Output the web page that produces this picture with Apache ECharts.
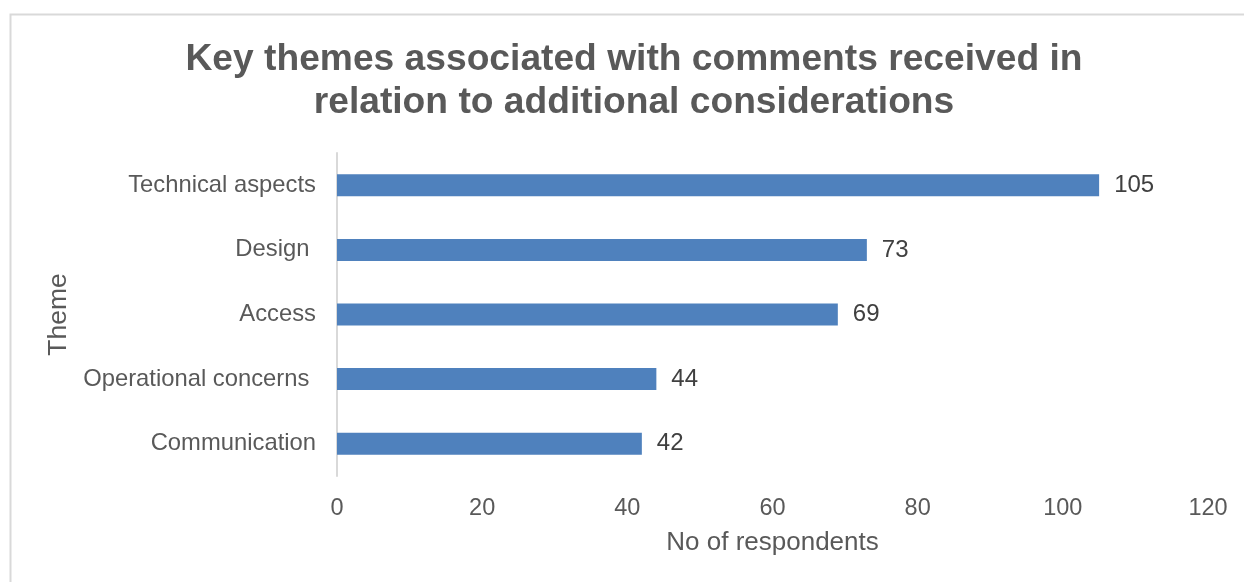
<!DOCTYPE html>
<html>
<head>
<meta charset="utf-8">
<script src="https://cdn.jsdelivr.net/npm/echarts@6/dist/echarts.min.js"></script>
<style>
  html, body { margin: 0; padding: 0; background: #fff; }
  #chart { width: 1244px; height: 582px; }
</style>
</head>
<body>
<div id="chart"></div>
<script>
// Themes, listed top to bottom
const themes = ['Technical aspects', 'Design ', 'Access', 'Operational concerns ', 'Communication'];
// Number of respondents per theme
const respondents = [105, 73, 69, 44, 42];
// Value axis range
const axisMin = 0;
const axisMax = 120;
const axisStep = 20;

const textColor = '#595959';
const font = '"Liberation Sans", Arial, sans-serif';

const chart = echarts.init(document.getElementById('chart'), null, { renderer: 'canvas' });

chart.setOption({
  backgroundColor: '#ffffff',
  animation: false,
  graphic: [
    {
      type: 'rect',
      shape: { x: 10.5, y: 14.5, width: 1300, height: 700 },
      style: { fill: 'none', stroke: '#d9d9d9', lineWidth: 2 },
      silent: true
    }
  ],
  title: {
    text: 'Key themes associated with comments received in\nrelation to additional considerations',
    left: 629,
    textAlign: 'center',
    top: 33,
    textStyle: {
      fontFamily: font,
      fontSize: 37.2,
      fontWeight: 'bold',
      color: textColor,
      lineHeight: 43
    }
  },
  grid: {
    left: 337,
    right: 36,
    top: 153,
    bottom: 106,
    containLabel: false
  },
  xAxis: {
    type: 'value',
    min: axisMin,
    max: axisMax,
    interval: axisStep,
    name: 'No of respondents',
    nameLocation: 'middle',
    nameGap: 54,
    nameTextStyle: { fontFamily: font, fontSize: 26, color: textColor },
    axisLine: { show: false },
    axisTick: { show: false },
    splitLine: { show: false },
    axisLabel: { fontFamily: font, fontSize: 23.5, color: textColor, margin: 21 }
  },
  yAxis: {
    type: 'category',
    data: themes,
    inverse: true,
    name: 'Theme',
    nameLocation: 'middle',
    nameGap: 265,
    nameRotate: 90,
    nameTextStyle: { fontFamily: font, fontSize: 26.5, color: textColor },
    axisLine: { show: true, lineStyle: { color: '#d9d9d9', width: 2 } },
    axisTick: { show: false },
    axisLabel: { fontFamily: font, fontSize: 23.8, color: textColor, margin: 21 }
  },
  series: [
    {
      type: 'bar',
      data: respondents,
      barWidth: 22,
      itemStyle: { color: '#4f81bd' },
      label: {
        show: true,
        position: 'right',
        distance: 15,
        fontFamily: font,
        fontSize: 24,
        color: '#404040'
      }
    }
  ]
});
</script>
</body>
</html>
